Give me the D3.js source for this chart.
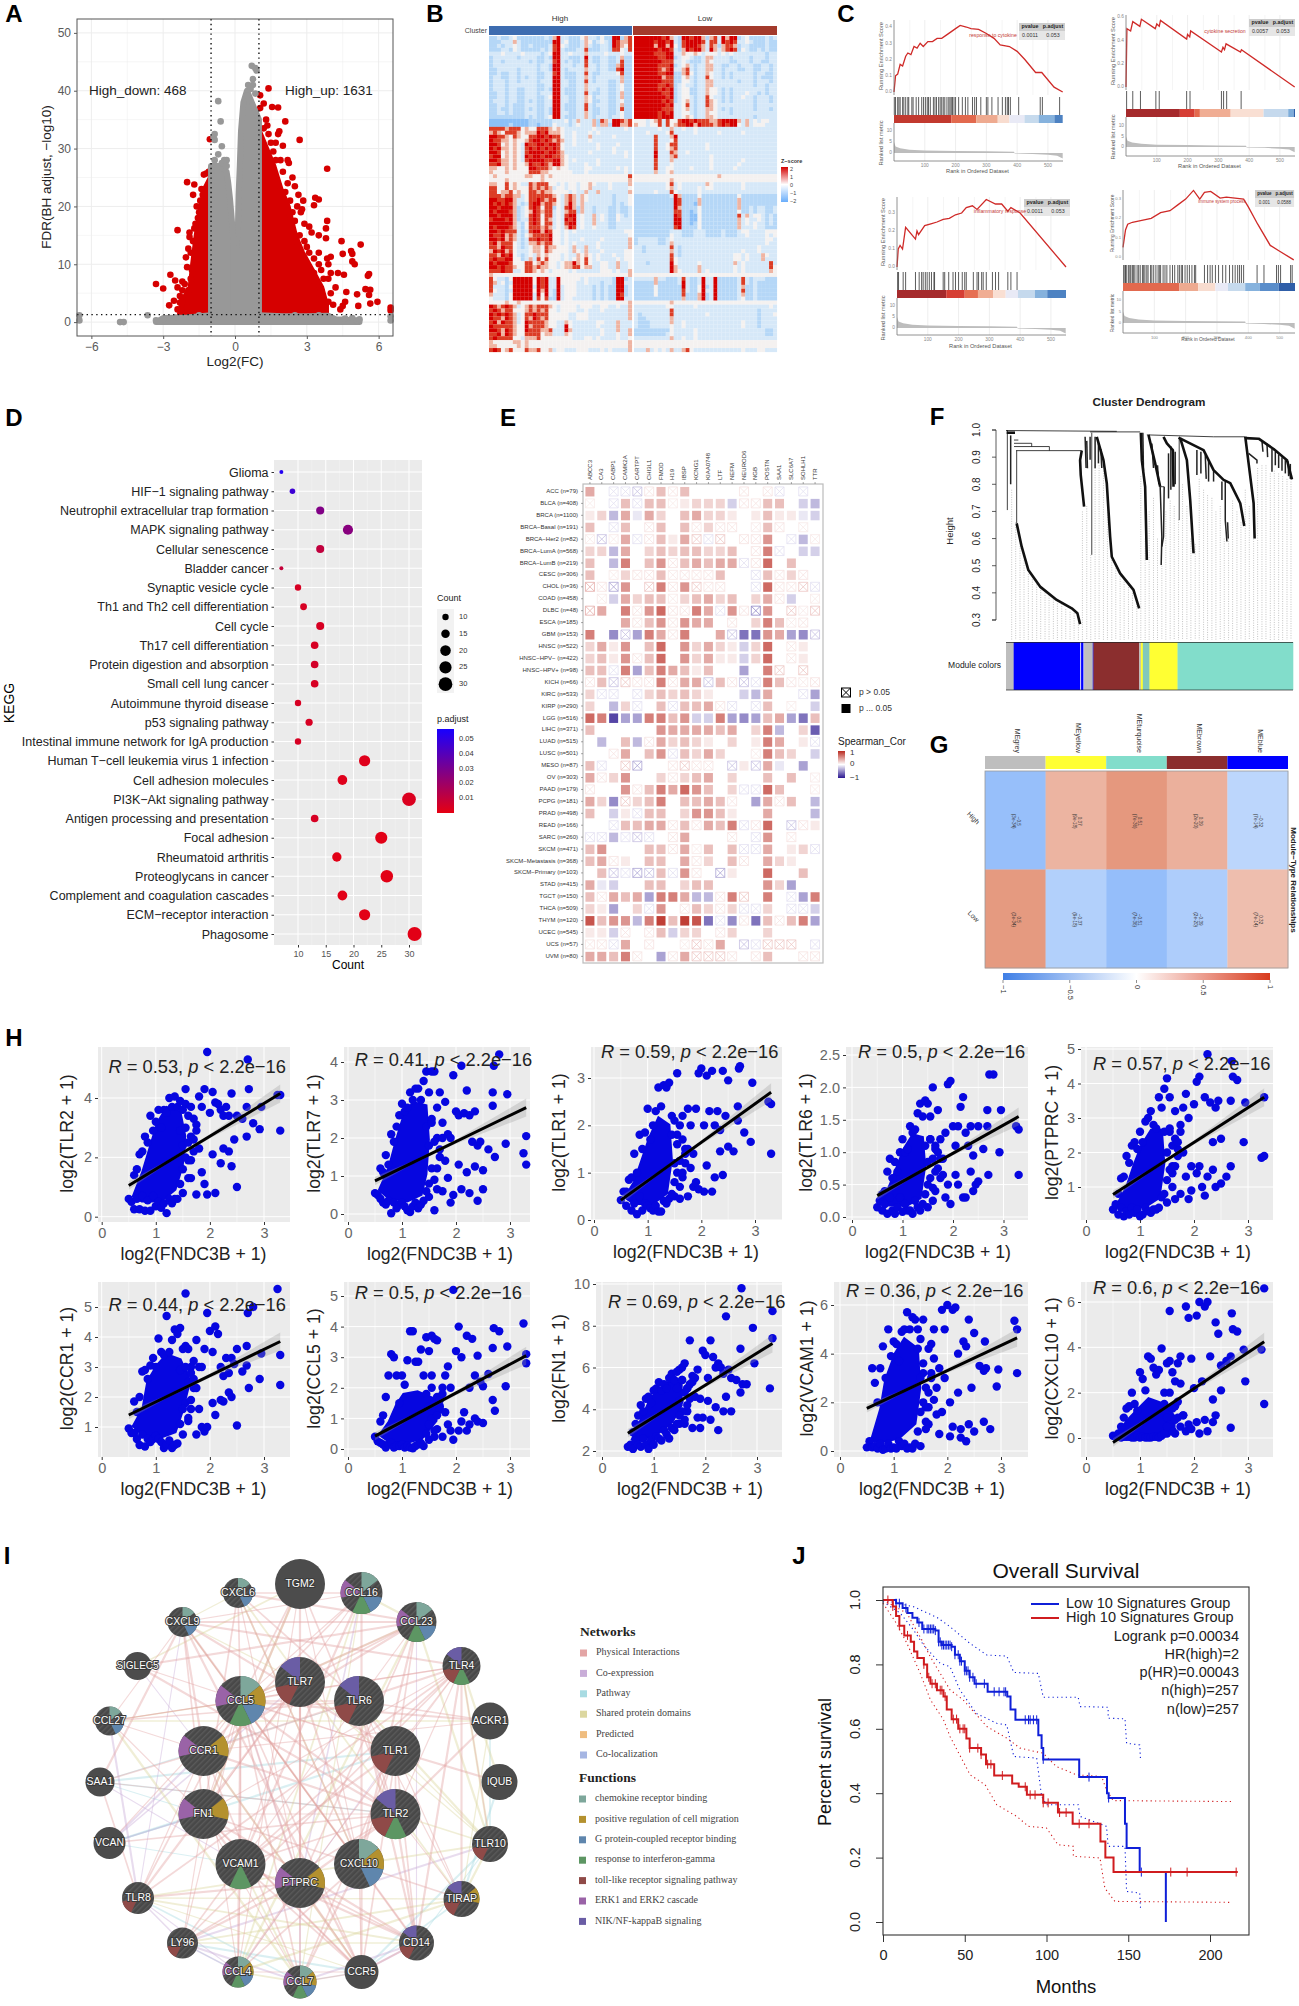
<!DOCTYPE html>
<html>
<head>
<meta charset="utf-8">
<title>FNDC3B multi-panel figure</title>
<script src="https://cdnjs.cloudflare.com/ajax/libs/d3/7.8.5/d3.min.js"></script>
<style>
  body { margin: 0; background: #fff; }
  svg { display: block; }
  text { font-family: "Liberation Sans", Arial, sans-serif; }
</style>
</head>
<body>
<script>
// ---------- A: volcano ----------
const volcanoGrayRight = [[0.05,1.5],[0.05,13],[0.12,16],[0.15,22],[0.2,27],[0.25,33],[0.35,38],[0.5,40],[0.7,38],[0.9,36],[1,35],[1,1.5]];
const volcanoGrayLeft = [[-0.05,1.5],[-0.05,13],[-0.1,16],[-0.2,21],[-0.28,24],[-0.35,26],[-0.6,27],[-1,27],[-1,1.5]];
const volcanoBand = [[-3.3,0],[-3,0.7],[-2,0.8],[-1,1.2],[1,1.2],[2,1],[3,1],[3.9,1.1],[4.2,0.5],[5.2,0.3],[5.2,0],[-3.3,0]];
const volcanoRedRight = [[1,1.3],[1,33],[1.3,30],[1.6,27],[1.9,23],[2.2,20],[2.5,15],[2.8,12],[3.2,9],[3.6,6],[3.8,3],[3.8,1.3]];
const volcanoRedLeft = [[-1,1.3],[-1,25],[-1.25,23],[-1.45,19],[-1.6,15],[-1.75,10],[-1.85,6],[-2.2,3.5],[-2.3,1.3]];
const volcanoRedPoints = [[1.4,40.4],[1.05,39.2],[1.2,37.8],[1.05,37],[1.55,37.2],[1.8,37.1],[2.1,34.7],[1.3,35],[1.35,34],[1.8,32.5],[1.85,33],[2.7,31.5],[2,30.5],[1.7,31],[1.5,31],[3.85,26.5],[2.2,28],[2.25,27.5],[2.4,25],[2.5,23.5],[2.65,22],[2.85,21],[3.35,21.5],[3.5,21.2],[3.3,20.2],[2.8,19.5],[2.75,19],[3.85,17.5],[3.8,16.2],[3.8,14.5],[2.9,17],[3.1,16.5],[3.2,15.5],[3.5,15],[4.45,14],[5.25,13.4],[4.85,12.3],[4.5,11.8],[4.9,11.8],[4.9,10.5],[5,10],[4,11.3],[3.85,11],[3.5,12],[3,13],[3.9,10],[4,8.5],[4.3,8.5],[4.55,8.2],[5.6,8.3],[5.55,8],[3.9,7.5],[4.2,6],[4.65,5.2],[5.1,4.8],[5.45,5.7],[5.65,5.6],[5.6,4.7],[5.65,3.2],[5.95,3.5],[5.15,2.8],[4.6,3.5],[4.5,2.8],[4.4,2.2],[6.5,2.5],[6.5,2],[-1.05,31.6],[-2,24.2],[-1.7,23.8],[-1.75,22],[-2.4,15.9],[-1.9,14.7],[-1.9,15.5],[-1.7,16.2],[-1.95,12.7],[-2.05,11.2],[-2,9.5],[-2.7,8.2],[-2.5,7.2],[-3.3,6.6],[-3,5.8],[-2.4,6],[-2.1,6.6],[-2.3,4.5],[-2.55,3.7],[-2.3,3.4],[-2.75,2.9],[-2.4,2.2],[-1.95,5.5],[-2.2,5.5],[-1.6,20],[-1.45,21],
  [2.3,21],[2.4,19],[2.5,17.5],[2.6,20],[2.2,24],[2,26],[1.9,28],[2.7,15],[2.9,14],[3.1,12],[3.3,11],[3.5,10],[3.6,9],[3.3,8.5],[3.7,7.5],[3.4,6.5],[3.6,5.5],[4,5],[3.9,3.5],[4.1,3],[3.7,3],[3.4,4],[2.9,10.5],[3.2,7.2],[2.6,13.3],[2.1,22.5],[1.7,28],[1.4,32.5],[1.2,33.5],[1.6,29.5],
  [-1.3,25.5],[-1.2,25.7],[-1.1,26],[-1.4,23],[-1.5,19],[-1.65,17],[-1.75,14],[-1.85,12],[-1.8,9],[-2.2,7],[-2.2,3.8],[-2,2.5],[-1.55,18],[-1.35,22],[-1.85,7.5],[-1.95,4]];
const volcanoGrayPoints = [[0.7,44.3],[0.85,43.9],[0.9,43.5],[0.75,42],[0.75,41],[0.55,41],[0.65,40.3],[0.5,39.2],[0.85,39.5],[-0.7,38.2],[-0.6,34.7],[-0.85,32.5],[-0.9,32],[-0.85,31.5],[-0.55,30.4],[-0.7,29],[-0.35,28],[-0.45,28],[-0.85,28],[-0.55,27.5],[-1,26.5],[-0.35,27],[-4.8,0],[-4.65,0],[-3.65,1.2],[-3.3,0.3],[-3,0.5],[6.5,1],[6.5,0.3],[-6.5,1.2],[-6.5,0.3],[5.1,0.2],[5.2,0.5],[4.9,0.7],[4.6,0.6],[3.5,1.2],[2.5,1.2],[-2.5,0.8],[-1.5,1.2]];

// ---------- B: heatmap, one digit per cell (0 = strong blue ... 6 = strong red) ----------
const heatRows = [
"112112 311111 112146 221113 422131 166145 666666 656421 665664 145264 661231 111212",
"111222 421111 111166 231112 431232 165445 666665 665621 566665 255265 652232 111211",
"112122 321121 111256 321112 421122 165435 666664 664631 566654 254145 541221 111211",
"111221 321111 121256 211122 511122 155325 666666 566521 465664 264245 651321 121211",
"222322 223222 212366 223222 422223 222322 666665 556622 433432 333232 322222 222122",
"122222 212222 112166 221112 621122 112411 666666 556612 332112 442222 122221 222122",
"122122 222212 112256 212112 521122 112511 666666 655522 321112 432222 112221 221122",
"122222 222222 122166 222122 522122 114511 666666 555612 342122 442211 221222 112212",
"112222 212222 122166 212222 422122 115611 666666 545622 452122 442212 221122 112212",
"112112 212222 112256 211122 521122 223511 666666 556611 453122 432212 122222 122112",
"122112 212122 112266 211122 421222 222411 666666 645511 342122 532212 122222 121112",
"122212 212222 122266 221122 521222 112411 666666 655511 332122 442222 221222 122212",
"122212 222222 112266 221122 422222 112311 666666 556512 322122 442222 222222 122122",
"122212 211222 112166 211122 422122 112311 666666 565612 331122 433212 122222 222122",
"112212 211222 122266 211122 521122 112411 666666 655612 331122 433212 122232 212122",
"112212 211222 112366 221122 431222 112411 666666 665612 332122 532212 122322 122212",
"122212 211212 112266 221122 431122 112311 666666 656512 342122 543212 122222 122212",
"112212 111222 112266 211122 521222 112411 666666 665622 352122 543222 222222 122222",
"112112 111212 112166 211122 521122 112511 666666 655522 342122 443212 122222 122212",
"112212 111222 112166 221122 421122 112311 666666 565622 332122 433222 122222 222222",
"111111 111212 112366 211122 421222 122311 666666 566622 343122 443222 222222 122222",
"000000 000011 111122 231242 224154 266545 333234 525335 665655 544566 664242 323322",
"000001 000011 011132 221232 224144 166445 433233 525345 566465 554565 663242 333222",
"555545 553433 555434 322222 223222 222232 222222 322422 322322 222222 222222 222222",
"454355 543444 656444 322322 232322 222222 222322 223522 222322 222322 222322 222222",
"665543 543355 665655 322322 242222 232222 222225 222462 222222 222222 222222 222222",
"655443 433456 656545 422322 232222 222222 222225 222352 222222 222222 222222 222222",
"665343 432655 665665 322322 222322 223222 222225 223552 222222 322222 222222 222222",
"656443 432565 656565 322222 222322 232222 222225 223452 222222 322222 222222 222222",
"665343 432566 665665 422222 232222 232232 222226 222542 232222 222222 222222 222222",
"566343 432656 656655 432222 222222 222232 222226 222452 222222 232222 222222 222222",
"665443 432566 665566 432322 222322 222222 222225 222422 222222 232222 222322 222222",
"556443 433465 565466 432222 322322 222222 222225 222322 222222 232222 223222 222222",
"443343 433366 555434 332222 332222 223232 222225 223322 223222 232222 232222 222222",
"433343 333355 544333 333222 322222 222232 222224 223422 222222 222222 222222 222222",
"343333 333443 343433 333333 333333 333335 333333 333333 333333 333433 333333 333333",
"333343 333333 343333 333333 333333 333334 333333 333433 333333 333333 333333 333333",
"443353 432254 555332 323323 343222 322224 222222 223523 222222 432222 222322 222222",
"553353 433354 545423 323323 342222 322223 222222 223423 222232 332222 222322 222222",
"553445 343355 454433 332322 422422 222224 222223 222532 222232 222222 222222 222222",
"555455 442355 555543 245424 322222 212223 111111 111264 111131 111111 113111 111111",
"665566 422355 654553 245424 322222 212223 111111 111165 111141 111111 114111 111111",
"656565 421256 645543 246424 222222 212123 111111 111165 111041 111111 114111 111111",
"665666 412356 535513 256414 221222 112112 111111 111164 111131 111111 114112 122112",
"656665 412346 545523 245514 221222 112112 111111 111155 110131 111111 113112 122112",
"665666 412356 535523 256623 224232 113212 111111 111165 110031 111111 115242 332121",
"566656 412256 535423 265623 224232 113222 111111 111166 110031 111111 114232 232121",
"666666 421356 535523 256623 224222 112222 111111 111166 110131 111111 114232 322121",
"656665 421355 545423 246523 223222 112222 111111 111156 111131 111111 114222 322111",
"665655 521256 646533 232322 222222 222233 111111 111222 111222 111121 112332 222333",
"655645 421345 555633 232222 222222 222223 111111 111322 111222 111121 112232 222323",
"665645 421255 655633 232223 222232 222224 122222 112322 222222 222222 222222 222332",
"564555 321244 545533 232322 222322 222224 122222 112422 222222 222222 222222 222322",
"554655 321234 435443 332422 422322 222224 221222 222521 222222 222222 222222 232222",
"465645 322234 435433 332432 422232 222233 221222 222421 222222 222222 222322 232222",
"554656 321232 434333 232243 432322 232233 222222 222521 222222 222222 233232 224322",
"565566 331242 535333 232343 532322 223233 222222 222532 222222 222222 233232 224222",
"656665 333553 454332 344643 532233 224223 222122 222632 222232 222222 242322 222252",
"665655 433554 544332 344553 442233 224223 222222 222642 222242 222222 232322 222253",
"555655 223554 343233 332322 222233 323224 222222 222643 222242 322222 232322 222243",
"433333 333333 333333 333333 333333 333334 333333 333333 333333 333333 333333 333333",
"532213 666663 656226 333332 322222 216612 222224 221112 521126 226111 112521 222111",
"542312 666663 656226 333322 322212 216622 111114 111112 621126 226111 112521 211111",
"522213 666662 656226 233322 221212 116612 111113 111111 621136 126111 112411 211111",
"532212 666663 646216 233322 221212 116612 111113 111111 521136 226111 112511 211111",
"422213 666662 636216 233322 221212 116512 111113 111111 511146 126111 112411 211111",
"322213 666662 535116 233222 221212 116622 111111 111111 411146 126111 112311 211111",
"333343 343333 333333 333333 333333 333334 333333 333433 333333 333333 333333 333333",
"654565 423454 555432 333323 332233 223224 222222 223322 222322 222222 222222 222232",
"565455 333454 545332 333322 322232 222224 222222 222522 222222 222222 222222 212222",
"656565 423556 555333 332233 322222 222224 212222 222522 222222 322222 222222 212223",
"655465 423546 545333 332233 322222 222224 211222 222422 222222 222222 222222 212222",
"564655 423655 554332 243222 222332 224222 211122 222422 322222 222222 222322 212222",
"655555 433645 554332 263222 222322 224222 211122 222322 322222 222222 222322 212222",
"665465 433655 544522 264222 222232 224224 111111 111322 222322 222222 222222 222112",
"556465 433555 534422 243222 222232 223224 111111 112322 222322 222222 222222 222112",
"565555 332444 533333 333222 332322 223223 222222 222422 322322 222222 222222 222222",
"433333 443433 333333 333333 333333 333334 333333 333333 333333 333333 333333 333333",
"443333 343433 333333 333333 333333 333334 333333 333333 333333 333333 333333 333333",
"565345 333544 533423 322233 322232 322224 222423 232422 453222 222222 222322 233222"
].map(s => s.replace(/ /g, ""));

// ---------- C: GSEA ----------
const gseaTerms = ["response to cytokine", "cytokine secretion", "inflammatory response", "immune system process"];
const gseaPvalues = ["0.0011", "0.0057", "0.0011", "0.001"];
const gseaPadjust = ["0.053", "0.053", "0.053", "0.0588"];
const gseaScores = [
  [[0,0],[5,.1],[12,.11],[20,.17],[28,.16],[38,.22],[45,.24],[55,.23],[65,.28],[75,.27],[85,.3],[95,.28],[110,.31],[125,.31],[140,.33],[155,.33],[170,.35],[185,.37],[200,.39],[215,.41],[235,.4],[250,.39],[275,.385],[300,.36],[325,.33],[345,.29],[375,.28],[400,.25],[425,.2],[460,.12],[480,.12],[520,.03],[548,0]],
  [[0,0],[3,.5],[15,.48],[22,.56],[45,.52],[50,.58],[95,.5],[100,.54],[108,.52],[112,.57],[197,.41],[200,.45],[207,.43],[210,.48],[310,.3],[315,.34],[320,.32],[325,.37],[372,.3],[375,.32],[548,0]],
  [[0,0],[4,.1],[10,.12],[18,.1],[28,.22],[60,.155],[65,.2],[70,.18],[90,.23],[110,.24],[130,.25],[150,.265],[170,.27],[190,.29],[210,.3],[225,.33],[245,.34],[260,.32],[290,.375],[320,.35],[340,.35],[360,.31],[370,.33],[400,.3],[549,0]],
  [[0,.05],[8,.14],[15,.17],[30,.18],[60,.19],[90,.2],[120,.23],[150,.24],[175,.27],[200,.3],[225,.345],[245,.3],[260,.335],[280,.34],[310,.305],[330,.31],[385,.3],[400,.26],[430,.17],[470,.06],[500,.03],[545,-.015]]
];
const gseaHits = [
  [1,5,12,16,20,28,32,38,45,48,58,62,72,80,90,96,102,108,112,118,128,133,138,145,150,155,160,165,172,178,182,186,190,195,200,210,222,232,240,255,262,268,282,300,305,318,338,352,362,368,372,378,405,475,482,538],
  [2,22,47,97,108,197,208,310,317,327,374],
  [2,5,20,28,60,72,80,85,92,98,105,112,120,122,150,155,168,182,190,200,212,220,225,248,260,265,275,280,290,310,320,330,360,370,390],
  [2,6,8,12,18,22,25,30,34,38,45,50,55,62,66,70,76,80,88,92,98,105,112,116,120,128,134,140,150,158,165,175,180,186,190,198,205,212,220,228,232,260,270,278,285,295,305,318,328,340,350,358,366,372,378,385,428,450,490,496,503,535,540]
];
const gseaStrips = [
  [[186,"#c2392f"],[267,"#e2694e"],[337,"#eeaa90"],[375,"#f8dccf"],[424,"#e9eaf6"],[470,"#c6daed"],[521,"#86b2dd"],[548,"#4d82c2"]],
  [[175,"#a52a2c"],[223,"#d63e34"],[240,"#e36a4e"],[340,"#f0ad93"],[447,"#f9dfd3"],[527,"#c5d9ed"],[545,"#7eadda"],[549,"#2c5fa8"]],
  [[160,"#a52a2c"],[220,"#d63e34"],[263,"#e66f52"],[313,"#f0ad93"],[353,"#f9dfd3"],[393,"#e9eaf6"],[448,"#c5d9ed"],[488,"#86b2dd"],[549,"#4d82c2"]],
  [[180,"#e2694e"],[240,"#eeaa90"],[295,"#f8dccf"],[335,"#e9eaf6"],[390,"#c6daed"],[437,"#86b2dd"],[497,"#5a8dca"],[549,"#2f5ea8"]]
];
const gseaScoreTicks = [[0,.1,.2,.3,.4],[0,.2,.4,.6],[0,.1,.2,.3],[0,.1,.2,.3]];
const gseaRankTicks = [100,200,300,400,500];
const rankedMetric = [[0,5],[5,3],[20,2.2],[50,1.5],[100,1.1],[200,.9],[300,.75],[390,.6],[392,-.2],[450,-.4],[500,-.8],[530,-1.2],[548,-2.5]];

// ---------- D: KEGG dot plot ----------
const keggTerms = ["Glioma","HIF−1 signaling pathway","Neutrophil extracellular trap formation","MAPK signaling pathway","Cellular senescence","Bladder cancer","Synaptic vesicle cycle","Th1 and Th2 cell differentiation","Cell cycle","Th17 cell differentiation","Protein digestion and absorption","Small cell lung cancer","Autoimmune thyroid disease","p53 signaling pathway","Intestinal immune network for IgA production","Human T−cell leukemia virus 1 infection","Cell adhesion molecules","PI3K−Akt signaling pathway","Antigen processing and presentation","Focal adhesion","Rheumatoid arthritis","Proteoglycans in cancer","Complement and coagulation cascades","ECM−receptor interaction","Phagosome"];
const keggCounts = [7,9,14,19,14,7,10,11,14,13,13,13,10,12,10,22,18,30,13,25,17,26,18,22,31];
const keggPadjust = [.052,.045,.027,.025,.01,.009,.004,.004,.004,.004,.005,.004,.004,.004,.004,.002,.002,.003,.004,.001,.001,.001,.001,.001,.001];
const keggCountTicks = [10,15,20,25,30];
const keggPTicks = [.05,.04,.03,.02,.01];

// ---------- E: correlation matrix, tenths of Spearman r ----------
const corGenes = ["ABCC3","CA3","CABP1","CAMK2A","CARTPT","CHI3L1","FMOD","H19","IBSP","KCNG1","KIAA0748","LTF","NEFM","NEUROD6","NGB","POSTN","SAA1","SLC6A7","SOHLH1","TTR"];
const corCancers = ["ACC (n=79)","BLCA (n=408)","BRCA (n=1100)","BRCA−Basal (n=191)","BRCA−Her2 (n=82)","BRCA−LumA (n=568)","BRCA−LumB (n=219)","CESC (n=306)","CHOL (n=36)","COAD (n=458)","DLBC (n=48)","ESCA (n=185)","GBM (n=153)","HNSC (n=522)","HNSC−HPV− (n=422)","HNSC−HPV+ (n=98)","KICH (n=66)","KIRC (n=533)","KIRP (n=290)","LGG (n=516)","LIHC (n=371)","LUAD (n=515)","LUSC (n=501)","MESO (n=87)","OV (n=303)","PAAD (n=179)","PCPG (n=181)","PRAD (n=498)","READ (n=166)","SARC (n=260)","SKCM (n=471)","SKCM−Metastasis (n=368)","SKCM−Primary (n=103)","STAD (n=415)","TGCT (n=150)","THCA (n=509)","THYM (n=120)","UCEC (n=545)","UCS (n=57)","UVM (n=80)"];
const corValues = [
[4,0,-1,-1,-2,1,3,1,3,0,0,0,0,1,0,1,-1,0,-1,0],
[0,0,-1,3,-1,3,3,0,1,2,2,2,-2,1,1,3,3,0,-2,-3],
[1,2,-3,4,-1,4,2,0,3,4,2,2,1,0,1,3,1,1,-1,-2],
[3,0,-1,3,0,1,3,0,3,1,2,1,1,0,0,3,1,0,0,0],
[0,-2,0,4,-1,1,3,1,4,2,-1,2,0,1,1,5,0,-1,-3,0],
[2,2,-3,4,0,2,3,2,3,3,2,2,3,0,1,6,-1,0,-2,-2],
[3,0,-3,6,0,3,5,1,3,4,3,4,4,-1,1,7,0,3,0,0],
[3,0,0,2,1,1,3,0,1,1,1,3,0,0,-1,3,1,2,1,0],
[3,1,-3,5,0,2,6,1,5,2,1,1,0,0,-1,7,1,1,2,-1],
[0,0,-2,4,2,3,3,0,2,3,4,2,3,0,2,4,1,-2,0,0],
[3,4,0,6,1,5,7,1,1,6,4,-1,5,1,-4,5,0,2,0,2],
[0,0,0,4,1,3,5,1,5,4,4,0,1,0,2,6,3,0,1,0],
[6,0,-5,-2,-4,6,4,1,6,0,0,4,-2,-6,-6,5,4,-4,-5,-2],
[2,4,1,5,0,3,7,0,5,2,4,2,1,-2,2,7,0,1,1,0],
[2,3,1,5,1,3,7,0,5,2,4,1,1,-2,2,7,0,1,1,0],
[3,3,-1,6,-4,3,6,4,3,1,3,0,0,-4,0,6,2,0,2,0],
[1,3,-2,2,1,1,6,1,4,4,-2,3,1,-2,-1,6,3,1,0,1],
[2,-1,-1,0,-1,2,3,2,3,2,1,0,0,-2,-3,4,0,0,-1,-4],
[2,0,-3,2,-1,0,3,-1,3,3,4,1,-1,0,-1,3,0,0,0,-2],
[7,6,-8,-4,-4,6,6,3,5,-2,-2,6,-4,-5,-4,3,4,-4,-6,3],
[3,0,0,0,0,0,5,4,4,4,4,3,4,0,2,6,-3,0,2,-7],
[0,-3,0,3,-3,1,4,2,3,2,1,0,2,0,1,6,4,0,1,-1],
[0,0,1,4,0,3,5,-1,3,2,4,2,0,0,0,6,3,2,0,-2],
[3,-1,0,2,-3,0,0,1,2,1,1,0,-2,1,-2,4,-1,0,-4,0],
[4,1,2,5,0,0,2,1,2,3,4,0,2,0,0,3,0,3,0,0],
[1,0,0,5,1,3,6,4,7,5,3,0,2,-1,-1,7,3,0,0,0],
[4,2,-5,2,2,3,6,0,3,3,4,3,1,0,-4,4,1,3,0,-3],
[3,0,-2,1,-1,3,3,0,2,5,5,3,1,0,0,4,0,0,0,-3],
[0,0,-1,3,3,4,4,1,3,1,4,3,6,-1,1,7,0,-2,1,1],
[-1,-1,-3,-1,-2,-1,0,1,4,0,0,0,1,0,-1,5,0,1,0,0],
[3,5,0,0,0,3,3,1,4,0,3,0,3,-1,-1,4,0,1,2,-1],
[3,4,1,1,0,3,3,0,4,1,2,0,3,1,0,4,2,1,0,0],
[0,3,-2,-1,-3,-2,3,-1,5,1,0,-3,1,0,0,7,0,0,3,0],
[4,-1,-2,0,0,3,3,0,2,3,3,0,0,0,0,5,2,-4,0,0],
[3,1,4,3,4,-4,6,6,4,-3,-3,1,6,2,0,6,0,-1,-4,6],
[2,1,-4,0,2,-1,5,0,1,3,2,1,2,-1,-1,2,0,-1,-1,-2],
[8,3,5,5,-3,6,9,3,9,8,-6,-1,-5,1,-6,3,1,3,6,-4],
[1,1,-2,1,0,1,3,-2,2,2,0,1,2,0,0,2,0,0,0,0],
[1,1,-1,4,0,1,0,0,0,2,1,4,0,-2,-1,2,2,2,0,-1],
[4,4,3,6,1,0,-4,1,4,2,2,2,1,0,1,3,0,0,1,1]
];
// "x" marks a cell with p > 0.05
const corNonSig = ["..xxxx.x.....x.xx.x.","x.x.x..x.....xx.....","....................","..x..x...x.xx.x.x.x.","xxx.xx...xxx.xx..x.x","..............x.x...",".......x.....xx.....","..x.xx.xxxx...x.x.x.","xxx..x.x.xxx..x.xxxx",".x.....x........x..x","x...x..xx..x.xx..xxx","....x..x....x....xx.","...x...x....x......x",".................x..","....x............x..","..x.............x.x.","x.xxxx.x..x.xxx..xxx",".xx.x.............x.","....x..x...xx.x..x..","....................","....................",".....x.............x","..x....x......x.....",".x.xx..xxxx.x.x.....",".x.....x...........x","x...x........xx....x","...x........x...x...","....x...............","..x....x.x...xx..xx.","xx.xxx.x....x.x..x..",".......x.x...xx....x","..x......x...x......","..xxxx.x.x.x........","....................",".x.........x.x...x..",".....x..x..x.xx..xx.","...........x.x..x...","...x.x.....x........","xxx..x..xxx..xxxxx.x","....x..x.xxxx.x...xx"];

// ---------- F: dendrogram (leaf position, height) ----------
const dendroBranches = [
  [[290,.656],[305,.57],[325,.484],[360,.423],[410,.374],[455,.343],[472,.325],[480,.285]],
  [[530,.975],[550,.889],[560,.804],[570,.607],[575,.533],[600,.472],[640,.411],[657,.343]],
  [[485,.924],[480,.889],[482,.834],[492,.718]],
  [[662,.99],[665,.889],[675,.791],[680,.521]],
  [[685,.982],[705,.877],[720,.791]],
  [[730,.975],[740,.951],[758,.926],[760,.791]],
  [[780,.97],[800,.889],[810,.742],[820,.546]],
  [[775,.972],[850,.926],[880,.852],[910,.816],[930,.804],[960,.73],[972,.646]],
  [[975,.975],[985,.877],[1000,.73],[1003,.6]],
  [[975,.97],[1015,.968],[1060,.93],[1100,.889],[1115,.818]],
  [[260,.99],[285,.99]]
];
const dendroTwigs = [
  [[500,.96],[502,.859]],[[510,.975],[510,.89]],[[525,.975],[525,.859]],[[535,.951],[535,.877]],[[495,.975],[498,.86]],[[542,.93],[545,.86]],
  [[668,.99],[670,.85]],[[695,.95],[700,.86]],[[712,.87],[716,.8]],[[745,.914],[745,.748]],[[752,.94],[752,.78]],[[765,.92],[765,.8]],
  [[720,.791],[725,.607],[723,.503]],[[732,.791],[730,.607],[725,.57]],
  [[830,.926],[830,.834]],[[842,.92],[842,.84]],[[855,.91],[858,.82]],[[865,.889],[865,.81]],[[880,.85],[880,.81]],[[905,.81],[905,.742]],[[915,.81],[915,.668],[920,.589]],[[922,.66],[924,.6]],
  [[1025,.96],[1028,.92]],[[1040,.95],[1042,.9]],[[1055,.93],[1055,.846]],[[1065,.92],[1065,.87]],[[1075,.91],[1075,.86]],[[1085,.9],[1085,.85]],[[1095,.889],[1095,.84]],[[1110,.875],[1110,.82]],[[1103,.885],[1105,.83]],
  [[985,.914],[1010,.889],[1010,.877]],[[272,.98],[272,.8]]
];
const dendroThin = [
  [[262,1],[262,.705]],[[290,.924],[290,.656]],[[777,.97],[777,.668]],[[515,.99],[515,.54]],
  [[258,.998],[590,.995]],[[510,.993],[660,.993]],[[680,.982],[880,.975]],[[880,.975],[975,.975]],
  [[282,.963],[295,.963]],[[282,.951],[335,.951]],[[335,.951],[335,.939]],[[282,.939],[388,.939]],[[388,.939],[388,.924]],[[288,.924],[485,.924]],[[720,.791],[732,.791]]
];
const dendroGuides = [[275,.78],[287,.66],[300,.6],[312,.52],[325,.47],[337,.45],[350,.44],[362,.42],[375,.41],[387,.4],[400,.385],[412,.37],[425,.36],[437,.34],[450,.33],[462,.325],[475,.3],[487,.7],[500,.72],[512,.54],[525,.87],[537,.87],[550,.85],[562,.75],[575,.53],[587,.5],[600,.47],[612,.45],[625,.43],[637,.4],[650,.36],[662,.83],[675,.6],[687,.7],[700,.75],[712,.6],[725,.5],[737,.7],[750,.74],[762,.72],[775,.67],[787,.8],[800,.72],[812,.6],[825,.58],[837,.82],[850,.78],[862,.76],[875,.75],[887,.7],[900,.72],[912,.6],[925,.6],[937,.74],[950,.7],[962,.66],[975,.78],[987,.72],[1000,.6],[1012,.86],[1025,.87],[1037,.87],[1050,.84],[1062,.85],[1075,.84],[1087,.83],[1100,.82],[1112,.81]];
const moduleStrip = [[258,281,"#bebebe"],[281,480,"#0000ff"],[480,483,"#c8c8ff"],[483,490,"#0000ff"],[490,492,"#c8c8ff"],[492,518,"#bebebe"],[518,520,"#0000ff"],[520,657,"#8b2e2e"],[657,662,"#bebebe"],[662,668,"#ffff33"],[668,688,"#82c8bc"],[688,772,"#ffff33"],[772,1118,"#82ddcb"]];
const dendroTicks = [.3,.4,.5,.6,.7,.8,.9,1];

// ---------- G: module-trait ----------
const moduleNames = ["MEgrey","MEyellow","MEturquoise","MEbrown","MEblue"];
const moduleColors = ["#bebebe","#ffff33","#82ddcb","#8b2e2e","#0000ff"];
const traitNames = ["High","Low"];
const traitCors = [[-.5,.37,.51,.39,-.32],[.5,-.37,-.51,-.39,.32]];
const traitPvals = [["3e-34","9e-18","7e-36","2e-20","7e-14"],["3e-34","9e-18","7e-36","2e-20","7e-14"]];
const traitTicks = [-1,-.5,0,.5,1];

// ---------- H: FNDC3B scatter plots, x is shared by all panels ----------
const fndc3b = [.5,.55,.6,.65,.7,.75,.8,.85,.9,.95,1,1.05,1.1,1.15,1.2,1.25,1.3,1.35,1.4,1.5,
  .6,.65,.7,.75,.8,.85,.9,.95,1,1.05,1.1,1.15,1.2,1.25,1.3,1.35,1.4,1.45,1.5,1.55,
  1.55,1.6,1.65,1.7,1.75,1.8,1.85,1.9,1.95,2,2.05,2.1,2.15,2.2,2.25,2.3,2.35,2.4,
  1.6,1.65,1.75,1.85,1.9,1.95,2.05,2.1,2.2,2.25,2.35,2.4,
  2.45,2.5,2.5,2.6,2.68,2.68,2.7,2.72,2.8,2.92,2.95,3.25,3.3,3.3,
  1.45,1.5,1.55,1.6,1.65,1.7,1.45,1.5,1.55,1.6,1.65,1.7,1.75,1.8];
const tlr2 = [.6,.5,.25,.6,.25,.7,.2,.55,.2,.7,.35,.5,.3,.45,.12,.6,.45,.6,.6,.8,1.4,1.6,2.1,2.2,2.7,2.5,3.4,2.9,3.2,3.6,3,3.6,3.5,4,3.7,4.05,3.7,3.9,3.6,4.3,3.8,3.4,3.7,3.3,3.1,4.05,3.7,4.3,5.55,3.5,4.2,3.85,3.8,3.6,3.4,3.7,3.4,4.15,1.9,1.3,.75,1.5,1.1,.75,2.1,.8,1.8,2.3,2.2,1.7,2.6,1,3.4,3.3,3.7,2.7,5.3,4.3,3.15,2.95,3.7,4.1,2.9,4.1,2.9,2.4,2,1.3,2.7,2.2,1.1,1.6,3,2.5,1.9,2.6,2.9,2.3];
const tlr7 = [.55,.5,.4,.3,.25,.35,.02,.3,.15,.25,.3,.2,.1,.05,.2,.3,.15,.25,.35,.45,1.2,1.1,1.55,1.3,2.1,1.9,2.3,2.6,2.9,2.7,2.8,3.2,3,3.3,3.3,3,3.5,3.75,3.2,3.75,2.5,3.75,2.8,3.2,2.4,2.95,2.1,2,3.65,2.7,2.6,3.9,2.65,3.25,2.6,1.9,2.7,1.8,.1,.65,.6,.95,.3,.5,1.3,.65,1.1,.55,1.25,.35,1.9,1.15,.65,1.7,3.2,2.85,3.9,1.5,4.2,1.85,3.15,1.6,2.05,1.3,2.3,1.8,1.2,.9,2,1.5,.6,.8,2.4,1.9,1.2,1.7,2,1.4];
const tlr1 = [.42,.6,.3,.5,.2,.35,.12,.5,.2,.35,.3,.25,.2,.3,.18,.18,.4,.35,.45,.5,.6,.85,.9,1.4,1,1.8,1.5,1.85,2.35,1.7,2,2.3,2.8,2.4,2.85,2.8,2.9,2.2,2.1,3.1,1.8,2,2.2,1.5,2.35,2,1.4,2.35,3.1,3.2,2,3.05,2.3,3.15,2,2.3,1.9,3.15,.45,.9,.5,.7,.8,.65,.6,1.15,.6,.9,1.45,.95,2.2,2.95,1.55,1.45,2.1,2.4,3.2,3.25,1.85,1.65,2.9,2.5,1.4,2.45,1.8,1.2,1,.7,1.7,1.2,.55,.8,1.6,1.25,1,1.4,1.5,1.1];
const tlr6 = [.15,.25,.1,.2,.05,.3,.1,.05,.15,.3,.08,.2,.1,.1,.05,.25,.15,.1,.2,.15,.35,.4,.7,.9,.6,.85,.7,1,1.2,1,1.05,1.4,1.3,1.35,1.6,1.75,1.55,1.8,1.75,1.55,1.2,2,1.1,1.65,1.2,.9,1.3,2.05,2.1,1.4,1.1,1.4,1.7,1.85,1.3,1.1,1.4,.95,.25,.4,.6,.3,.5,.2,.65,.5,.3,.3,.7,.4,.5,.55,1.4,1.05,1.4,1.65,.65,2.2,2.2,1,1.65,1.4,.65,1.35,1.1,.85,.6,.45,1.05,.75,.35,.5,1.2,.9,.7,1,.9,.65];
const ptprc = [.35,.5,.2,.4,.15,.3,.2,.4,.25,.35,.15,.2,.4,.3,.25,.35,.35,.4,.7,.55,.8,1.25,1.3,1.9,1.7,2.2,2.3,2.1,2.6,2.3,2.9,3,3.2,2.8,2.7,3.6,3.3,3.85,4.15,3.6,2.6,1.4,3.2,2.1,2.8,3.3,3.7,3,1.6,3.4,4.05,4.2,1,3.6,4.85,3.45,2.3,3.3,1.6,.65,.8,1.3,.65,.9,1.4,1.6,.75,1.3,1.5,1,3.5,1.1,2.4,1.3,1.6,3.5,4.65,4.2,4.1,2.3,3.45,1.85,1.9,3.6,2.6,2,1.5,1,2.4,1.9,.8,1.2,2.7,2.2,1.6,2.3,2.6,2];
const ccr1 = [.95,.8,.8,.6,.4,.75,.35,.6,.5,.6,.7,.6,.5,.3,.4,.55,.3,.4,.45,.75,1.85,1.5,2,2.85,2.9,2.6,3.05,3.3,3,3.95,3.5,3.4,4.7,3.5,3.9,4.25,4.1,4.3,3.6,5.45,3.7,3.6,3,3.2,3.9,3,3,3.6,4.8,4.2,3.5,4.35,4.1,3,2.7,3.3,2.8,3.3,1.2,1.6,.75,1,.85,1,1.8,1.4,1.9,1.85,2.15,2,3.1,1.05,3.6,2.85,3.7,3.05,4.8,2.3,5,2.6,3.45,5.6,3.4,2.4,2.9,2.2,1.8,1.3,2.8,2.3,1.1,1.6,3,2.5,1.9,2.6,2.3,1.6];
const ccl5 = [.4,.25,.2,.15,.05,.15,.2,.05,.1,.1,.15,.05,.1,.05,.02,.1,.15,.2,.1,.3,.9,1.1,1.7,2.4,3.1,3,2.4,1.5,2.4,2.1,2.9,3.85,3.85,2.85,2.85,3.25,2.4,3.65,3.2,3.7,2.4,3.6,3.55,1.4,2,2.4,2.7,2,5.2,3.2,4,3,1.2,3.7,2,3.6,2.4,3.05,.4,.65,.4,.8,.6,.3,.6,.9,.6,.8,1,.9,2.2,.85,2.05,2.45,3.3,1.6,3.95,1.25,3.85,2.05,3.35,4.1,3.1,2.8,1.8,1.4,1,.6,1.7,1.3,.5,.8,2,1.5,1.1,1.6,1.8,1.2];
const fn1 = [2.2,2.3,2.1,2.5,2.3,2.2,2.6,2.3,2.1,2.5,2.3,2.7,2.6,2.5,3,2.8,2.6,3.1,3,3.3,2.9,3.3,3.7,4.2,3.9,4.5,4.6,4.3,4.9,5,5.3,4.9,5.2,5,5.5,5.7,5.4,5.8,5.9,6,5.4,6.2,5,7.3,5.6,5.5,5.9,4.5,6.8,6.6,5.5,7.3,6.5,6,6.2,6,5.7,8.45,3.3,3.9,3.1,3.6,3.1,3.6,4.4,3.5,4.1,3,3.9,4.6,5.9,3.9,5.5,5.4,4.8,6.9,9.8,5.2,5.2,7.9,6.2,5,8.7,7.4,5,4.4,3.9,3.5,5,4.5,3.3,3.7,5.4,4.8,4.2,5.2,5.3,4.6];
const vcam1 = [.15,.4,.15,.2,.1,.3,.05,.1,.3,.1,.15,.1,.4,.2,.3,.1,.15,.1,.3,.2,3.4,2.8,2,3.4,4.3,3,5,3.9,4.5,4.4,3.7,4.9,5,5.7,5,5.5,5.4,5,4.6,5.4,3.2,1.8,2.4,4.4,5,1.5,3.4,5.8,5,6,.6,5.8,5.9,4,.9,4.5,.4,5.4,.9,1.1,2.1,.7,1.6,3,2,1,2.4,.55,4.3,1.1,2.6,4.85,.8,3.5,1.2,3.3,4.5,3.4,.9,2.65,3.35,5.35,5,3.2,4.2,3,2,1.2,4.2,3,.8,1.6,3.6,2.6,1.8,3.2,3.8,2.6];
const cxcl10 = [.1,.05,.1,.02,.05,.05,.05,.02,.02,.1,.02,.05,.02,.02,.02,.05,.05,.02,.1,.2,.2,.5,.9,1.3,1.4,2,1.5,1.2,2.9,2.6,2.1,3.6,3.5,3.1,2.8,3,3.95,2,3.3,3.4,5.6,2.9,2.5,3.3,3.6,1,5.8,5.3,3.5,2.2,5.4,6,2.5,5.8,6,3.6,1.7,5.1,.3,.2,.5,.3,.6,.4,.7,.2,.8,.3,.7,1,4.6,3.2,2.1,3.4,.45,3.6,5.5,4.8,4.7,3.9,2.5,3.9,6.6,1.5,1.5,.9,.6,.3,1.4,.9,.2,.5,2,1.3,.8,1.6,2.4,1];
const scatterGenes = ["TLR2","TLR7","TLR1","TLR6","PTPRC","CCR1","CCL5","FN1","VCAM1","CXCL10"];
const scatterY = [tlr2,tlr7,tlr1,tlr6,ptprc,ccr1,ccl5,fn1,vcam1,cxcl10];
const scatterR = ["0.53","0.41","0.59","0.5","0.57","0.44","0.5","0.69","0.36","0.6"];
const scatterFitStart = [1.05,.87,.42,.33,.78,1.4,.42,2.85,1.75,-.2];
const scatterFitEnd = [4.15,2.8,2.7,1.55,3.6,3.85,3.05,7.15,4.65,4.25];
const scatterTicks = [[0,2,4],[0,1,2,3,4],[0,1,2,3],[0,.5,1,1.5,2,2.5],[1,2,3,4,5],[1,2,3,4,5],[0,1,2,3,4,5],[2,4,6,8,10],[0,2,4,6],[0,2,4,6]];
// dense middle of each cloud, outline in data units
const scatterCore = [
  [[.5,.55],[.7,1.5],[.85,2.4],[1,3.3],[1.2,3.9],[1.5,3.7],[1.6,2.8],[1.55,1.7],[1.4,.8],[1.1,.35],[.7,.35]],
  [[.5,.55],[.7,1.2],[.85,2],[1,2.7],[1.2,3.1],[1.5,3],[1.55,2],[1.5,1],[1.4,.4],[1.1,.2],[.7,.3]],
  [[.5,.42],[.7,.8],[.85,1.3],[1,1.8],[1.2,2.3],[1.45,2.1],[1.5,1.3],[1.4,.5],[1.1,.25],[.7,.25]],
  [[.5,.15],[.7,.5],[.85,.8],[1,1.1],[1.2,1.35],[1.45,1.3],[1.5,.8],[1.4,.25],[1.1,.12],[.7,.12]],
  [[.5,.4],[.7,1],[.85,1.7],[1,2.3],[1.2,2.8],[1.45,2.8],[1.5,1.7],[1.4,.6],[1.1,.3],[.7,.3]],
  [[.5,.95],[.7,1.6],[.8,2.6],[1,3.2],[1.2,3.6],[1.5,3.4],[1.7,2.6],[1.55,1.5],[1.4,.7],[1.1,.5],[.7,.6]],
  [[.5,.4],[.7,.9],[.85,1.5],[1,1.9],[1.3,2],[1.7,1.7],[1.7,.9],[1.4,.25],[1.1,.1],[.7,.15]],
  [[.5,2.4],[.7,3.5],[.9,4.6],[1.1,5.1],[1.4,5.7],[1.6,5.3],[1.6,4.2],[1.4,3.3],[1.1,2.7],[.7,2.3]],
  [[.5,.2],[.7,1.7],[.8,3],[1,4.2],[1.2,4.9],[1.5,4.4],[1.55,2.6],[1.45,1],[1.1,.3],[.7,.15]],
  [[.5,.1],[.7,.8],[.9,1.3],[1.15,1.9],[1.5,1.6],[1.7,1],[1.7,.2],[1.1,.02],[.7,.02]]
];
const fitCiX = [.5,1.2,2,3.3];
const fitCiHalf = [.14,.05,.07,.3];

// ---------- I: gene network, function order: chemokine, migration, GPCR, IFN, TLR, ERK, NIK ----------
const networkFunctions = ["chemokine receptor binding","positive regulation of cell migration","G protein-coupled receptor binding","response to interferon-gamma","toll-like receptor signaling pathway","ERK1 and ERK2 cascade","NIK/NF-kappaB signaling"];
const functionColors = ["#7ea79b","#b4912f","#5f86ad","#5d9663","#8f4a48","#9a63a7","#6a5da5"];
const networkTypes = ["Physical Interactions","Co-expression","Pathway","Shared protein domains","Predicted","Co-localization"];
const networkTypeColors = ["#e3a5a5","#c9add8","#a8dbe2","#dcd7a0","#efbd80","#a6b6e3"];
const geneNames = ["TGM2","CXCL6","CCL16","CCL23","CXCL9","TLR4","SIGLEC5","TLR7","CCL5","TLR6","CCL27","ACKR1","CCR1","TLR1","SAA1","IQUB","FN1","TLR2","VCAN","TLR10","VCAM1","CXCL10","PTPRC","TLR8","TIRAP","LY96","CD14","CCL4","CCL7","CCR5"];
const geneScores = [25,15,21,20,15,19,14,25,25,25,14.5,18.5,25,25,14.5,18,25,25,16,18,25,25,25,16,18,15.5,17.5,15.5,16.5,17];
// slice membership, one flag per function
const geneFunctions = ["0000000","1010000","1011010","1011010","1010000","0001101","0000000","0000101","1111010","0000101","1010000","0000000","0100010","0000100","0000000","0000000","0100010","0001101","0000000","0000100","0001000","1110000","0100010","0000100","0100101","0000100","0000101","1111010","1111010","0000000"];
const physicalEdges = "CCL5 CCR1;CCL5 CCR5;CCL5 TLR2;CCL5 CXCL10;CCL5 VCAM1;CCL5 PTPRC;CCL5 FN1;CCL5 TLR4;CCL5 CCL23;CCL5 CCL16;CCL5 CXCL6;CCL5 CXCL9;CCL5 CCL27;CCL5 CCL7;CCL5 CCL4;CCL5 TLR7;CCL5 TLR6;CCL5 ACKR1;CCL5 TLR1;CCL5 TLR8;CCL5 CD14;CCL5 LY96;CCR1 CCL16;CCR1 CCL23;CCR1 CCL4;CCR1 CCL7;CCR1 CXCL9;CCR1 TLR8;CCR1 SAA1;CCR1 TLR2;CCR1 CCL27;CCR1 CCR5;CCR1 TLR4;CCR1 ACKR1;TLR1 TLR2;TLR1 TLR6;TLR1 TLR4;TLR1 CD14;TLR1 VCAM1;TLR1 SIGLEC5;TLR1 CXCL10;TLR1 CXCL9;TLR1 TIRAP;TLR1 CCL7;TLR1 IQUB;TLR2 TLR4;TLR2 TLR6;TLR2 CD14;TLR2 FN1;TLR2 VCAM1;TLR2 PTPRC;TLR2 TIRAP;TLR2 LY96;TLR2 SIGLEC5;TLR2 SAA1;TLR4 LY96;TLR4 CD14;TLR4 FN1;TLR4 VCAM1;TLR4 TIRAP;TLR4 PTPRC;TLR4 TLR8;TLR4 CXCL9;TLR4 TLR10;TLR6 CXCL6;TLR6 CD14;TLR6 TIRAP;TLR6 ACKR1;TLR7 TLR8;TLR7 PTPRC;TLR7 CCL7;TLR7 CXCL10;TLR7 VCAM1;TLR7 CCL23;TGM2 FN1;TGM2 CXCL10;TGM2 CCL5;TGM2 PTPRC;TGM2 CCL4;TGM2 TLR2;FN1 VCAM1;FN1 CCL7;FN1 CXCL9;FN1 CD14;FN1 LY96;FN1 CXCL6;FN1 CCR5;FN1 CCL16;FN1 TIRAP;VCAM1 CCL16;VCAM1 CCL4;VCAM1 CCR5;VCAM1 CD14;VCAM1 CCL23;VCAM1 LY96;PTPRC CCL4;PTPRC CCR5;PTPRC CD14;PTPRC LY96;PTPRC CXCL6;PTPRC CCL23;PTPRC TLR8;CXCL10 CXCL9;CXCL10 CCL4;CXCL10 CCL7;CXCL10 CCR5;CXCL10 CXCL6;CXCL10 CCL23;CXCL10 CD14;CCR5 CCL23;CCR5 CCL16;CCR5 CCL27;CCR5 CD14;CCR5 CXCL9;CCR5 CCL4;CCR5 CCL7;CXCL9 CCL23;CXCL9 CCL16;CXCL6 CCL16;CXCL6 CCL23;CXCL9 CCL27;SAA1 TLR8;SAA1 CXCL9;VCAN CCL5;VCAN TLR2;ACKR1 TLR2;CCL27 TLR4;CCL27 TLR6;SIGLEC5 CCL23".split(";");
const sharedEdges = "CCL5 CCL27;CCL5 CCL23;CCL16 CCL23;CXCL9 CXCL6;CCL4 CCL7;TLR4 TLR10;TLR1 TLR10;TLR2 TLR10;TLR6 TLR10;TLR7 TLR10;TLR8 TLR10;TIRAP TLR10;CCL16 CCL7;CCL16 CCL4;CCL23 CCL4;CXCL9 CXCL10;CXCL6 CXCL10;CCR1 CCR5;TLR8 TIRAP;LY96 TIRAP;CCL27 CCL7;CCL27 ACKR1;VCAM1 CCL7;FN1 TGM2;TLR8 CCR5;TLR8 CD14;IQUB TLR4;ACKR1 TIRAP;CXCL6 TIRAP;CCL23 TLR10;CXCL9 TLR7;SIGLEC5 TGM2;CCL4 TIRAP;LY96 CD14".split(";");
const coexpEdges = "CCL4 TLR8;CCL4 LY96;CCL7 LY96;CCL5 PTPRC;TLR8 LY96;CD14 CCR5;VCAM1 SAA1;FN1 VCAN;CCR1 VCAN;TLR1 CCL4;PTPRC CCL7;LY96 TLR10;CCL23 CD14;CCL16 PTPRC;CD14 CCL7;SIGLEC5 CCR1;TLR7 VCAN;CCL27 TLR8;CXCL9 TLR8".split(";");
const pathwayEdges = "SAA1 FN1;SAA1 TLR2;SAA1 TLR1;SAA1 TLR6;VCAN FN1;VCAN TLR1;VCAN VCAM1;ACKR1 TLR10;IQUB TIRAP;CD14 TLR10;TIRAP CCR5;LY96 CCR5;LY96 CCL4;TLR8 CCL7;TLR10 CCR5;CCL7 CCR5".split(";");

// ---------- J: survival ----------
const lowSurvival = [[0,1],[8,.99],[12,.975],[15,.96],[18,.945],[21,.93],[24,.91],[32,.905],[34,.87],[36,.86],[42,.855],[44,.83],[47,.81],[50,.78],[53,.76],[56,.74],[64,.715],[76,.7],[78,.66],[81,.628],[95,.58],[97,.54],[98,.505],[120,.45],[137,.4],[138,.385],[148,.305],[149,.23],[157,.155],[173,0]];
const highSurvival = [[0,1],[6,.98],[8,.95],[10,.92],[13,.89],[17,.87],[19,.84],[21,.82],[25,.8],[27,.76],[29,.74],[33,.72],[37,.7],[39,.66],[42,.63],[46,.6],[51,.57],[53,.54],[60,.52],[63,.49],[68,.455],[79,.43],[83,.42],[88,.395],[98,.37],[107,.34],[116,.305],[133,.25],[136,.2],[141,.155],[217,.155]];
const lowUpper = [[0,1],[18.7,.979],[33,.946],[41,.917],[53,.866],[63.5,.829],[75.7,.826],[80,.775],[95,.772],[98,.698],[119.4,.698],[120.5,.669],[137.7,.667],[137.7,.633],[148,.631],[149,.555],[157,.55],[157.5,.504]];
const lowLower = [[0,.995],[10.6,.959],[18.7,.907],[24.8,.86],[35,.803],[41,.793],[47,.721],[57,.648],[69.6,.617],[75.7,.612],[80,.514],[94,.509],[97,.39],[100,.364],[119.4,.364],[120.5,.328],[136.7,.297],[137.7,.235],[148,.235],[149,.095],[157,.09],[157.5,.043]];
const highUpper = [[0,1],[14.6,.959],[24.8,.866],[28.9,.824],[41,.721],[49,.69],[63.5,.607],[75.7,.571],[83.8,.54],[98,.524],[106,.483],[118.4,.457],[133.7,.452],[136.7,.41],[140.8,.377],[214,.374]];
const highLower = [[0,.99],[7.5,.933],[14.6,.866],[22.8,.772],[29,.69],[37,.628],[41,.576],[53.3,.457],[62.5,.426],[69.6,.364],[81.8,.328],[89,.297],[100,.292],[107,.24],[116.4,.235],[116.4,.204],[132.7,.199],[135.7,.105],[141.8,.064],[213,.061]];
const lowCensor = [8,10,14,22,25,27,28,29,30,31,32,34,35,36,37,38,39,40,41,42,44,46,47,48,50,51,52,53,55,57,62,68,71,74,75,87,89,90,92,94,98,126,138,158];
const highCensor = [3,6,10,15,25,28,30,32,35,36,38,43,45,47,49,50,53,58,60,64,66,73,87,90,93,98,101,108,112,120,126,176,186,216];
const survivalNotes = ["Logrank p=0.00034","HR(high)=2","p(HR)=0.00043","n(high)=257","n(low)=257"];

// ---------- helpers ----------
const svg = d3.select("body").append("svg").attr("width", 1299).attr("height", 2006);
const defs = svg.append("defs");

function label(g, s, x, y, o = {}) {
  const t = g.append("text").attr("x", x).attr("y", y).text(s)
    .attr("font-size", o.size || 10).attr("fill", o.fill || "#000")
    .attr("text-anchor", o.anchor || "middle").attr("dominant-baseline", o.base || "middle");
  if (o.weight) t.attr("font-weight", o.weight);
  if (o.family) t.style("font-family", o.family);
  if (o.rotate !== undefined) t.attr("transform", `rotate(${o.rotate} ${x} ${y})`);
  return t;
}
function styleAxis(a, size, color, tickColor) {
  a.selectAll("text").attr("font-size", size).attr("fill", color);
  a.selectAll("line").attr("stroke", tickColor || color);
  a.select(".domain").remove();
}
function gradient(id, stops, vertical) {
  const lg = defs.append("linearGradient").attr("id", id).attr("x1", 0).attr("y1", vertical ? 1 : 0).attr("x2", vertical ? 0 : 1).attr("y2", 0);
  stops.forEach((c, i) => lg.append("stop").attr("offset", i / (stops.length - 1)).attr("stop-color", c));
  return `url(#${id})`;
}
const minus = s => String(s).replace("-", "−");

[["A",14,16],["B",435,16],["C",846,16],["D",14,420],["E",508,420],["F",937,419],["G",939,747],["H",14,1040],["I",7,1558],["J",799,1558]]
  .forEach(p => label(svg, p[0], p[1], p[2], {size: 24, weight: "bold"}));

// ---------- panel A ----------
(function () {
  const g = svg.append("g");
  const x = d3.scaleLinear().domain([-6.6, 6.6]).range([77, 393]);
  const y = d3.scaleLinear().domain([-2.4, 52.4]).range([336, 19]);
  [-6,-4.5,-3,-1.5,0,1.5,3,4.5,6].forEach((v, i) => g.append("line").attr("x1", x(v)).attr("x2", x(v)).attr("y1", 19).attr("y2", 336).attr("stroke", "#ededed").attr("stroke-width", i % 2 ? .5 : 1));
  [0,5,10,15,20,25,30,35,40,45,50].forEach((v, i) => g.append("line").attr("y1", y(v)).attr("y2", y(v)).attr("x1", 77).attr("x2", 393).attr("stroke", "#ededed").attr("stroke-width", i % 2 ? .5 : 1));
  const line = d3.line().x(d => x(d[0])).y(d => y(d[1])).curve(d3.curveLinearClosed);
  const blob = (pts, c) => g.append("path").attr("d", line(pts)).attr("fill", c).attr("stroke", c).attr("stroke-width", 6).attr("stroke-linejoin", "round");
  blob(volcanoRedRight, "#d60000"); blob(volcanoRedLeft, "#d60000");
  g.selectAll(null).data(volcanoRedPoints).join("circle").attr("cx", d => x(d[0])).attr("cy", d => y(d[1])).attr("r", 3.3).attr("fill", "#d60000");
  blob(volcanoGrayRight, "#989898"); blob(volcanoGrayLeft, "#989898"); blob(volcanoBand, "#989898");
  g.selectAll(null).data(volcanoGrayPoints).join("circle").attr("cx", d => x(d[0])).attr("cy", d => y(d[1])).attr("r", 3.3).attr("fill", "#989898");
  g.append("line").attr("x1", 77).attr("x2", 393).attr("y1", y(1.3)).attr("y2", y(1.3)).attr("stroke", "#111").attr("stroke-width", 1.4).attr("stroke-dasharray", "1.4 3.4");
  [-1, 1].forEach(v => g.append("line").attr("x1", x(v)).attr("x2", x(v)).attr("y1", 19).attr("y2", 336).attr("stroke", "#111").attr("stroke-width", 1.4).attr("stroke-dasharray", "1.4 3.4"));
  g.append("rect").attr("x", 77).attr("y", 19).attr("width", 316).attr("height", 317).attr("fill", "none").attr("stroke", "#555").attr("stroke-width", 1);
  const ax = g.append("g").attr("transform", "translate(0,336)").call(d3.axisBottom(x).tickValues([-6,-3,0,3,6]).tickFormat(minus).tickSize(3));
  styleAxis(ax, 12, "#5a5a5a");
  const ay = g.append("g").attr("transform", "translate(77,0)").call(d3.axisLeft(y).tickValues([0,10,20,30,40,50]).tickSize(3));
  styleAxis(ay, 12, "#5a5a5a");
  label(g, "Log2(FC)", 235, 362, {size: 13.5, fill: "#222"});
  label(g, "FDR(BH adjust, −log10)", 47, 177, {size: 13.5, rotate: -90, fill: "#222"});
  label(g, "High_down: 468", 89, 91, {size: 13.5, anchor: "start", fill: "#222"});
  label(g, "High_up: 1631", 285, 91, {size: 13.5, anchor: "start", fill: "#222"});
})();

// ---------- panel B ----------
(function () {
  const g = svg.append("g");
  const palette = ["#8cc0f7","#b5d7f7","#d6e8f8","#f4f1f0","#efb4a2","#dc3d25","#d40000"];
  const y = d3.scaleBand().domain(d3.range(heatRows.length)).range([36, 352]);
  const xHigh = d3.scaleBand().domain(d3.range(36)).range([489, 632]);
  const xLow = d3.scaleBand().domain(d3.range(36, 72)).range([634, 777]);
  defs.append("filter").attr("id", "soft").append("feGaussianBlur").attr("stdDeviation", .55);
  const cells = g.append("g").attr("filter", "url(#soft)");
  heatRows.forEach((row, r) => {
    cells.selectAll(null).data(row.split("")).join("rect")
      .attr("x", (d, i) => i < 36 ? xHigh(i) : xLow(i)).attr("y", y(r))
      .attr("width", 4.05).attr("height", y.bandwidth() + .1).attr("fill", d => palette[+d]);
  });
  g.append("rect").attr("x", 489).attr("y", 26).attr("width", 143).attr("height", 9).attr("fill", "#3d6cb0");
  g.append("rect").attr("x", 633).attr("y", 26).attr("width", 144).attr("height", 9).attr("fill", "#a33a2c");
  label(g, "Cluster", 487, 31, {size: 7, anchor: "end", fill: "#444"});
  label(g, "High", 560, 19, {size: 8, fill: "#333"});
  label(g, "Low", 705, 19, {size: 8, fill: "#333"});
  label(g, "Z−score", 781, 162, {size: 5.5, anchor: "start", weight: "bold", fill: "#333"});
  g.append("rect").attr("x", 781).attr("y", 167).attr("width", 7).attr("height", 35).attr("fill", gradient("zbar", ["#6aaefb","#ffffff","#d40000"], true));
  [2,1,0,-1,-2].forEach((v, i) => label(g, minus(v), 790, 170 + i * 8, {size: 5.5, anchor: "start", fill: "#444"}));
})();

// ---------- panel C ----------
(function () {
  const frames = [
    {x0:894,x1:1063,top:20,base:92,unit:162.5,bar0:97,strip0:115,strip1:123,m0:153,mUnit:2.2,bottom:161,xl:171,yl:881,tx:1020,ty:27,lx:993,ly:36,s:1},
    {x0:1126,x1:1295,top:15,base:87,unit:116.7,bar0:91,strip0:109,strip1:117,m0:147,mUnit:2.1,bottom:156,xl:166,yl:1113,tx:1250,ty:23,lx:1225,ly:32,s:1},
    {x0:897,x1:1066,top:197,base:267,unit:180,bar0:272,strip0:290,strip1:298,m0:328,mUnit:2.2,bottom:335,xl:346,yl:883,tx:1025,ty:203,lx:1000,ly:212,s:1},
    {x0:1123,x1:1295,top:190,base:257,unit:193,bar0:265,strip0:283,strip1:291,m0:323,mUnit:2.3,bottom:333,xl:340,yl:1113,tx:1256,ty:194,lx:1222,ly:202,s:.85}
  ];
  frames.forEach((f, k) => {
    const g = svg.append("g");
    const x = d3.scaleLinear().domain([0, 549]).range([f.x0, f.x1]);
    const y = d3.scaleLinear().domain([0, 1]).range([f.base, f.base - f.unit]);
    const m = d3.scaleLinear().domain([0, 1]).range([f.m0, f.m0 - f.mUnit]);
    gseaRankTicks.forEach(v => {
      g.append("line").attr("x1", x(v)).attr("x2", x(v)).attr("y1", f.top).attr("y2", f.base + 3).attr("stroke", "#eee");
      g.append("line").attr("x1", x(v)).attr("x2", x(v)).attr("y1", f.strip1).attr("y2", f.bottom).attr("stroke", "#eee");
      g.append("line").attr("x1", x(v) - 15).attr("x2", x(v) - 15).attr("y1", f.top).attr("y2", f.base + 3).attr("stroke", "#f5f5f5");
    });
    g.append("path").attr("d", d3.area().x(d => x(d[0])).y0(m(0)).y1(d => m(d[1]))(rankedMetric)).attr("fill", "#bdbdbd");
    g.append("path").attr("d", d3.line().x(d => x(d[0])).y(d => y(d[1]))(gseaScores[k])).attr("fill", "none").attr("stroke", "#cf2a28").attr("stroke-width", 1.3);
    g.selectAll(null).data(gseaHits[k]).join("line").attr("x1", d => x(d)).attr("x2", d => x(d)).attr("y1", f.bar0).attr("y2", f.strip0).attr("stroke", "#333").attr("stroke-width", .8);
    let start = 0;
    gseaStrips[k].forEach(s => {
      g.append("rect").attr("x", x(start)).attr("y", f.strip0).attr("width", x(s[0]) - x(start)).attr("height", f.strip1 - f.strip0).attr("fill", s[1]);
      start = s[0];
    });
    g.append("path").attr("d", `M${f.x0},${f.top}V${f.base + 3}M${f.x0},${f.strip1}V${f.bottom}H${f.x1}`).attr("fill", "none").attr("stroke", "#777").attr("stroke-width", .8);
    const tick = 4.4 * f.s + .4, fs = 5.7 * f.s;
    gseaRankTicks.forEach(v => label(g, v, x(v), f.bottom + 5, {size: tick, fill: "#888"}));
    gseaScoreTicks[k].forEach(v => label(g, v.toFixed(1), f.x0 - 2, y(v), {size: tick, anchor: "end", fill: "#888"}));
    [0,5,10].forEach(v => label(g, v, f.x0 - 2, m(v), {size: tick, anchor: "end", fill: "#888"}));
    label(g, "Rank in Ordered Dataset", (f.x0 + f.x1) / 2 - 1, f.xl, {size: fs, fill: "#555"});
    label(g, "Running Enrichment Score", f.yl, (f.top + f.base) / 2, {size: fs, rotate: -90, fill: "#555"});
    label(g, "Ranked list metric", f.yl, f.m0 - 10, {size: fs, rotate: -90, fill: "#555"});
    g.append("rect").attr("x", f.tx - 1).attr("y", f.ty - 4).attr("width", 46 * f.s).attr("height", 8).attr("fill", "#ccc");
    g.append("rect").attr("x", f.tx - 1).attr("y", f.ty + 4).attr("width", 46 * f.s).attr("height", 9).attr("fill", "#e6e6e6");
    const c1 = f.tx + 10 * f.s, c2 = f.tx + 33 * f.s;
    label(g, "pvalue", c1, f.ty, {size: 5.3 * f.s, weight: "bold", fill: "#222"});
    label(g, "p.adjust", c2, f.ty, {size: 5.3 * f.s, weight: "bold", fill: "#222"});
    label(g, gseaPvalues[k], c1, f.ty + 8.5, {size: 5.3 * f.s, fill: "#333"});
    label(g, gseaPadjust[k], c2, f.ty + 8.5, {size: 5.3 * f.s, fill: "#333"});
    label(g, gseaTerms[k], f.lx, f.ly, {size: 5.2 * f.s, fill: "#c43a38"});
  });
})();

// ---------- panel D ----------
(function () {
  const g = svg.append("g");
  const x = d3.scaleLinear().domain([10, 30]).range([298, 409]);
  const y = d3.scalePoint().domain(keggTerms).range([472, 934]);
  const r = d3.scaleLinear().domain([7, 10, 20, 31]).range([2, 3.2, 5.3, 7]);
  const color = d3.scaleLinear().domain([0, .055]).range(["#e60012", "#1800ff"]);
  g.append("rect").attr("x", 274).attr("y", 460).attr("width", 148).attr("height", 485).attr("fill", "#ebebeb");
  [12.5,17.5,22.5,27.5].forEach(v => g.append("line").attr("x1", x(v)).attr("x2", x(v)).attr("y1", 460).attr("y2", 945).attr("stroke", "#f5f5f5").attr("stroke-width", .5));
  [10,15,20,25,30].forEach(v => g.append("line").attr("x1", x(v)).attr("x2", x(v)).attr("y1", 460).attr("y2", 945).attr("stroke", "#fff"));
  keggTerms.forEach(t => g.append("line").attr("x1", 274).attr("x2", 422).attr("y1", y(t)).attr("y2", y(t)).attr("stroke", "#fff"));
  g.selectAll(null).data(keggTerms).join("circle").attr("cx", (d, i) => x(keggCounts[i])).attr("cy", d => y(d)).attr("r", (d, i) => r(keggCounts[i])).attr("fill", (d, i) => color(keggPadjust[i]));
  const ay = g.append("g").attr("transform", "translate(274,0)").call(d3.axisLeft(y).tickSize(2.5));
  styleAxis(ay, 12.5, "#222", "#333");
  const ax = g.append("g").attr("transform", "translate(0,945)").call(d3.axisBottom(x).tickValues(keggCountTicks).tickSize(2.5));
  styleAxis(ax, 9, "#555", "#333");
  label(g, "Count", 348, 966, {size: 12});
  label(g, "KEGG", 10, 703, {size: 14, rotate: -90});
  label(g, "Count", 437, 599, {size: 9, anchor: "start", fill: "#222"});
  g.append("rect").attr("x", 437).attr("y", 609).attr("width", 17).attr("height", 84).attr("fill", "#f2f2f2");
  keggCountTicks.forEach((c, i) => {
    g.append("circle").attr("cx", 445.5).attr("cy", 617 + i * 16.8).attr("r", r(c)).attr("fill", "#000");
    label(g, c, 459, 617 + i * 16.8, {size: 7.5, anchor: "start", fill: "#333"});
  });
  label(g, "p.adjust", 437, 720, {size: 9, anchor: "start", fill: "#222"});
  g.append("rect").attr("x", 437).attr("y", 729).attr("width", 17).attr("height", 84).attr("fill", gradient("padj", ["#e60012", "#1800ff"], true));
  keggPTicks.forEach((p, i) => label(g, p.toFixed(2), 459, 739 + i * 14.8, {size: 7.5, anchor: "start", fill: "#333"}));
})();

// ---------- panel E ----------
(function () {
  const g = svg.append("g");
  const x = d3.scaleBand().domain(corGenes).range([583, 820]);
  const y = d3.scaleBand().domain(corCancers).range([485.5, 962.3]);
  const color = d3.scaleLinear().domain([-10, 0, 10]).range(["#2a1690", "#ffffff", "#b92a20"]);
  const s = 9;
  corCancers.forEach((c, r) => {
    corGenes.forEach((gene, k) => {
      const v = corValues[r][k], cx = x(gene) + x.bandwidth() / 2 + 1, cy = y(c) + y.bandwidth() / 2;
      if (corNonSig[r][k] === "x") {
        const stroke = color(v === 0 ? 1 : v * 1.3);
        g.append("path").attr("d", `M${cx - s / 2},${cy - s / 2}h${s}v${s}h${-s}zL${cx + s / 2},${cy + s / 2}M${cx + s / 2},${cy - s / 2}L${cx - s / 2},${cy + s / 2}`)
          .attr("fill", "none").attr("stroke", stroke).attr("stroke-width", .8);
      } else if (v !== 0) {
        g.append("rect").attr("x", cx - s / 2).attr("y", cy - s / 2).attr("width", s).attr("height", s + .5).attr("fill", color(v));
      }
    });
  });
  g.append("rect").attr("x", 583).attr("y", 484).attr("width", 240).attr("height", 479).attr("fill", "none").attr("stroke", "#bbb").attr("stroke-width", 1.2);
  corCancers.forEach(c => {
    label(g, c, 578, y(c) + y.bandwidth() / 2, {size: 6, anchor: "end", fill: "#333"});
    g.append("line").attr("x1", 581).attr("x2", 583).attr("y1", y(c) + y.bandwidth() / 2).attr("y2", y(c) + y.bandwidth() / 2).attr("stroke", "#555").attr("stroke-width", .5);
  });
  corGenes.forEach(c => {
    const cx = x(c) + x.bandwidth() / 2 + 1;
    label(g, c, cx, 480, {size: 6, anchor: "start", fill: "#333", rotate: -90});
    g.append("line").attr("x1", cx).attr("x2", cx).attr("y1", 482).attr("y2", 484).attr("stroke", "#555").attr("stroke-width", .5);
  });
  g.append("rect").attr("x", 841.5).attr("y", 688).attr("width", 9).attr("height", 9).attr("fill", "none").attr("stroke", "#000");
  g.append("path").attr("d", "M841.5,688L850.5,697M850.5,688L841.5,697").attr("stroke", "#000");
  g.append("rect").attr("x", 841.5).attr("y", 704).attr("width", 9).attr("height", 9).attr("fill", "#000");
  label(g, "p > 0.05", 859, 692.5, {size: 8.5, anchor: "start", fill: "#333"});
  label(g, "p ... 0.05", 859, 708.6, {size: 8.5, anchor: "start", fill: "#333"});
  label(g, "Spearman_Cor", 838, 742, {size: 10, anchor: "start", fill: "#222"});
  g.append("rect").attr("x", 838).attr("y", 751).attr("width", 7).attr("height", 27).attr("fill", gradient("spear", ["#2a1690", "#ffffff", "#b92a20"], true));
  label(g, "1", 850, 752.5, {size: 8, anchor: "start", fill: "#333"});
  label(g, "0", 850, 764, {size: 8, anchor: "start", fill: "#333"});
  label(g, "−1", 850, 777.5, {size: 8, anchor: "start", fill: "#333"});
})();

// ---------- panel F ----------
(function () {
  const g = svg.append("g");
  const x = d3.scaleLinear().domain([258, 1118]).range([1006, 1293]);
  const y = d3.scaleLinear().domain([.3, 1]).range([620, 430]);
  const line = d3.line().x(d => x(d[0])).y(d => y(d[1]));
  g.selectAll(null).data(dendroGuides).join("line").attr("x1", d => x(d[0])).attr("x2", d => x(d[0])).attr("y1", d => y(d[1])).attr("y2", 640)
    .attr("stroke", "#aaa").attr("stroke-width", .7).attr("stroke-dasharray", "1 1.4");
  g.selectAll(null).data(dendroThin).join("path").attr("d", line).attr("fill", "none").attr("stroke", "#111").attr("stroke-width", .8);
  g.selectAll(null).data(dendroTwigs).join("path").attr("d", line).attr("fill", "none").attr("stroke", "#222").attr("stroke-width", 1.5);
  g.selectAll(null).data(dendroBranches).join("path").attr("d", line).attr("fill", "none").attr("stroke", "#111").attr("stroke-width", 2.6).attr("stroke-linejoin", "round");
  moduleStrip.forEach(s => g.append("rect").attr("x", x(s[0])).attr("y", 642).attr("width", x(s[1]) - x(s[0]) + .3).attr("height", 48).attr("fill", s[2]));
  g.append("path").attr("d", "M1006,642.5H1293M1006,690H1293").attr("stroke", "#222").attr("stroke-width", .7);
  g.append("path").attr("d", `M992,${y(.3)}H996V${y(1)}H992`).attr("fill", "none").attr("stroke", "#333").attr("stroke-width", .8);
  dendroTicks.forEach(v => {
    g.append("line").attr("x1", 992).attr("x2", 996).attr("y1", y(v)).attr("y2", y(v)).attr("stroke", "#333").attr("stroke-width", .8);
    label(g, v.toFixed(1), 977, y(v), {size: 10, rotate: -90, fill: "#222"});
  });
  label(g, "Cluster Dendrogram", 1149, 403, {size: 11.7, weight: "bold", fill: "#222"});
  label(g, "Height", 950, 531, {size: 9.5, rotate: -90, fill: "#222"});
  label(g, "Module colors", 1001, 666, {size: 8.5, anchor: "end", fill: "#222"});
})();

// ---------- panel G ----------
(function () {
  const g = svg.append("g");
  const x = d3.scaleBand().domain(moduleNames).range([985, 1288]);
  const y = d3.scaleBand().domain(traitNames).range([771, 968]);
  const color = d3.scaleLinear().domain([-1, -.5, 0, .5, 1]).range(["#3f7fe6", "#97bffa", "#ffffff", "#e59a80", "#d83a1c"]);
  moduleNames.forEach((m, i) => {
    g.append("rect").attr("x", x(m)).attr("y", 756).attr("width", x.bandwidth()).attr("height", 13).attr("fill", moduleColors[i]);
    label(g, m, x(m) + x.bandwidth() / 2 + 2, 753, {size: 7, anchor: "end", rotate: 90, fill: "#333"});
    traitNames.forEach((t, j) => {
      g.append("rect").attr("x", x(m)).attr("y", y(t)).attr("width", x.bandwidth() + .3).attr("height", y.bandwidth() + .3).attr("fill", color(traitCors[j][i]));
      const cx = x(m) + x.bandwidth() / 2 + 3, cy = y(t) + y.bandwidth() / 2 + 1;
      label(g, minus(traitCors[j][i]), cx, cy, {size: 4.6, rotate: 90, fill: "#333"});
      label(g, `(${traitPvals[j][i]})`, cx - 5, cy, {size: 4.6, rotate: 90, fill: "#333"});
    });
  });
  g.append("rect").attr("x", 985).attr("y", 771).attr("width", 303).attr("height", 197).attr("fill", "none").attr("stroke", "#999").attr("stroke-width", .8);
  traitNames.forEach(t => label(g, t, 973, y(t) + y.bandwidth() / 2 - 2, {size: 7, rotate: 45, fill: "#333"}));
  label(g, "Module−Type Relationships", 1293, 880, {size: 8, rotate: 90, weight: "bold", fill: "#222"});
  const bx = d3.scaleLinear().domain([-1, 1]).range([1003, 1270]);
  g.append("rect").attr("x", 1003).attr("y", 973).attr("width", 267).attr("height", 7).attr("fill", gradient("modbar", ["#3f7fe6", "#ffffff", "#d83a1c"], false));
  traitTicks.forEach(v => {
    g.append("line").attr("x1", bx(v)).attr("x2", bx(v)).attr("y1", 980).attr("y2", 983).attr("stroke", "#444").attr("stroke-width", .6);
    label(g, minus(v), bx(v), 985, {size: 7.5, anchor: "start", rotate: 90, fill: "#333"});
  });
})();

// ---------- panel H ----------
(function () {
  const frames = [
    {l:98,r:290,t:1047,b:1222,x0:101.7,x3:264,v0:0,v1:4,p0:1216.7,p1:1098,rx:108.5,ry:1068,tx:193.5,yx:68},
    {l:344,r:530,t:1047,b:1222,x0:348,x3:510,v0:0,v1:4,p0:1214,p1:1062,rx:354.7,ry:1061,tx:440,yx:315},
    {l:591,r:782,t:1047,b:1220,x0:594,x3:755,v0:0,v1:3,p0:1220,p1:1078,rx:601,ry:1053,tx:686,yx:560},
    {l:846,r:1028,t:1047,b:1220,x0:852,x3:1003.5,v0:0,v1:2.5,p0:1217,p1:1055,rx:858,ry:1053,tx:938,yx:807},
    {l:1081,r:1273,t:1047,b:1220,x0:1086,x3:1248,v0:1,v1:5,p0:1187,p1:1049,rx:1093,ry:1065,tx:1178,yx:1053},
    {l:98,r:290,t:1282,b:1457,x0:101.7,x3:264,v0:1,v1:5,p0:1427,p1:1307,rx:108.5,ry:1306,tx:193.5,yx:68},
    {l:344,r:530,t:1282,b:1457,x0:348,x3:510,v0:0,v1:5,p0:1449,p1:1296,rx:354.7,ry:1294,tx:440,yx:315},
    {l:596,r:782,t:1282,b:1457,x0:602,x3:757,v0:2,v1:10,p0:1451,p1:1284,rx:608,ry:1303,tx:690,yx:560},
    {l:834,r:1028,t:1282,b:1457,x0:840,x3:1001,v0:0,v1:6,p0:1451,p1:1305,rx:846,ry:1292,tx:932,yx:808},
    {l:1081,r:1273,t:1282,b:1457,x0:1086,x3:1248,v0:0,v1:6,p0:1438,p1:1302,rx:1093,ry:1289,tx:1178,yx:1053}
  ];
  frames.forEach((f, k) => {
    const g = svg.append("g");
    const x = d3.scaleLinear().domain([0, 3]).range([f.x0, f.x3]);
    const y = d3.scaleLinear().domain([f.v0, f.v1]).range([f.p0, f.p1]);
    g.append("rect").attr("x", f.l).attr("y", f.t).attr("width", f.r - f.l).attr("height", f.b - f.t).attr("fill", "#ebebeb");
    [0,1,2,3].forEach(v => g.append("line").attr("x1", x(v)).attr("x2", x(v)).attr("y1", f.t).attr("y2", f.b).attr("stroke", "#fff"));
    [.5,1.5,2.5].forEach(v => g.append("line").attr("x1", x(v)).attr("x2", x(v)).attr("y1", f.t).attr("y2", f.b).attr("stroke", "#fff").attr("stroke-width", .5));
    scatterTicks[k].forEach(v => g.append("line").attr("x1", f.l).attr("x2", f.r).attr("y1", y(v)).attr("y2", y(v)).attr("stroke", "#fff"));
    const hull = scatterCore[k].map(d => [x(d[0]), y(d[1])]);
    const mid = d3.polygonCentroid(hull);
    g.append("path").attr("d", d3.line().curve(d3.curveLinearClosed)(hull.map(p => [mid[0] + (p[0] - mid[0]) * .92, mid[1] + (p[1] - mid[1]) * .92]))).attr("fill", "#0606e0");
    g.selectAll(null).data(fndc3b).join("circle").attr("cx", d => x(d)).attr("cy", (d, i) => y(scatterY[k][i])).attr("r", 4.2).attr("fill", "#0606e0");
    const fit = v => scatterFitStart[k] + (scatterFitEnd[k] - scatterFitStart[k]) * (v - .5) / 2.8;
    const band = fitCiX.map((v, i) => [x(v), y(fit(v)) - fitCiHalf[i] * 30]).concat(fitCiX.map((v, i) => [x(v), y(fit(v)) + fitCiHalf[i] * 30]).reverse());
    g.append("path").attr("d", d3.line().curve(d3.curveLinearClosed)(band)).attr("fill", "#999").attr("opacity", .3);
    g.append("line").attr("x1", x(.5)).attr("x2", x(3.3)).attr("y1", y(scatterFitStart[k])).attr("y2", y(scatterFitEnd[k])).attr("stroke", "#000").attr("stroke-width", 3);
    const ax = g.append("g").attr("transform", `translate(0,${f.b})`).call(d3.axisBottom(x).tickValues([0,1,2,3]).tickFormat(d3.format("d")).tickSize(3));
    styleAxis(ax, 14.5, "#666", "#333");
    const ay = g.append("g").attr("transform", `translate(${f.l},0)`).call(d3.axisLeft(y).tickValues(scatterTicks[k]).tickFormat(scatterTicks[k].includes(.5) ? d3.format(".1f") : d3.format("d")).tickSize(3));
    styleAxis(ay, 14.5, "#666", "#333");
    label(g, "log2(FNDC3B + 1)", f.tx, f.b + 33, {size: 17.7, fill: "#222"});
    label(g, `log2(${scatterGenes[k]} + 1)`, f.yx, (f.t + f.b) / 2 - 1, {size: 17.7, rotate: -90, fill: "#222"});
    const rt = g.append("text").attr("x", f.rx).attr("y", f.ry).attr("dominant-baseline", "middle").attr("font-size", 18.3).attr("fill", "#222");
    rt.append("tspan").attr("font-style", "italic").text("R");
    rt.append("tspan").text(` = ${scatterR[k]}, `);
    rt.append("tspan").attr("font-style", "italic").text("p");
    rt.append("tspan").text(" < 2.2e−16");
  });
})();

// ---------- panel I ----------
(function () {
  const g = svg.append("g");
  // ring positions of the gene nodes, read in px from the figure
  const layoutX = [300,238,361.5,416.5,182.5,461.5,137.5,300,240.5,359,109.5,490,203.5,395.5,100,499.5,203.5,395.5,109.5,490,240.5,359,300,138,461.5,182.5,416.5,238,300,361.5];
  const layoutY = [1584,1593,1593,1622,1622,1666,1666,1682,1701,1701,1721,1721,1751,1751,1782,1782,1814,1814,1843,1844,1864,1864,1883,1898,1899,1943,1943,1972,1982,1972];
  const nodes = new Map(geneNames.map((n, i) => [n, {x: layoutX[i], y: layoutY[i], r: geneScores[i], f: geneFunctions[i]}]));
  const drawEdges = (list, color, w) => list.forEach((e, i) => {
    const [a, b] = e.split(" ").map(n => nodes.get(n));
    g.append("line").attr("x1", a.x).attr("y1", a.y).attr("x2", b.x).attr("y2", b.y).attr("stroke", color).attr("stroke-width", w + (i % 3) * .5).attr("opacity", .42);
  });
  drawEdges(pathwayEdges, networkTypeColors[2], 1.2);
  drawEdges(coexpEdges, networkTypeColors[1], 1.1);
  drawEdges(sharedEdges, networkTypeColors[3], 1.3);
  drawEdges(physicalEdges, networkTypeColors[0], 1.2);
  const pat = defs.append("pattern").attr("id", "hatch").attr("width", 4).attr("height", 4).attr("patternUnits", "userSpaceOnUse").attr("patternTransform", "rotate(-45)");
  pat.append("rect").attr("width", 4).attr("height", 4).attr("fill", "#484848");
  pat.append("rect").attr("width", 4).attr("height", 1.4).attr("fill", "#5a5a5a");
  geneNames.forEach(n => {
    const d = nodes.get(n);
    const hatched = d.f.includes("1");
    g.append("circle").attr("cx", d.x).attr("cy", d.y).attr("r", d.r).attr("fill", hatched ? "url(#hatch)" : "#4c4c4c");
    const sector = 2 * Math.PI / 7;
    d.f.split("").forEach((flag, i) => {
      if (flag !== "1") return;
      g.append("path").attr("transform", `translate(${d.x},${d.y})`).attr("d", d3.arc().innerRadius(0).outerRadius(d.r).startAngle(i * sector).endAngle((i + 1) * sector)()).attr("fill", functionColors[i]);
    });
    label(g, n, d.x, d.y + .5, {size: n.length > 5 ? 10 : 10.5, fill: "#fff"}).attr("stroke", "#3a3a3a").attr("stroke-width", 2).attr("paint-order", "stroke");
  });
  const serif = '"Liberation Serif", serif';
  label(g, "Networks", 580, 1633, {size: 13.5, anchor: "start", weight: "bold", family: serif, fill: "#222"});
  label(g, "Functions", 579, 1779, {size: 13.5, anchor: "start", weight: "bold", family: serif, fill: "#222"});
  networkTypes.forEach((t, i) => {
    g.append("rect").attr("x", 580).attr("y", 1653 + i * 20.4 - 3.5).attr("width", 7).attr("height", 7).attr("fill", networkTypeColors[i]);
    label(g, t, 596, 1653 + i * 20.4, {size: 10, anchor: "start", family: serif, fill: "#444"});
  });
  networkFunctions.forEach((t, i) => {
    g.append("rect").attr("x", 579).attr("y", 1799 + i * 20.4 - 3.5).attr("width", 7).attr("height", 7).attr("fill", functionColors[i]);
    label(g, t, 595, 1799 + i * 20.4, {size: 10, anchor: "start", family: serif, fill: "#444"});
  });
})();

// ---------- panel J ----------
(function () {
  const g = svg.append("g");
  const x = d3.scaleLinear().domain([0, 200]).range([883, 1210]);
  const y = d3.scaleLinear().domain([0, 1]).range([1922, 1600]);
  const stepped = d3.line().x(d => x(d[0])).y(d => y(d[1])).curve(d3.curveStepAfter);
  const plain = d3.line().x(d => x(d[0])).y(d => y(d[1]));
  const blue = "#0f1fd8", red = "#d01c1f";
  [[lowUpper, blue], [lowLower, blue], [highUpper, red], [highLower, red]].forEach(c =>
    g.append("path").attr("d", plain(c[0])).attr("fill", "none").attr("stroke", c[1]).attr("stroke-width", 1.1).attr("stroke-dasharray", "1.2 3.2"));
  const at = (curve, t) => curve[Math.max(0, d3.bisector(d => d[0]).right(curve, t) - 1)][1];
  [[lowSurvival, lowCensor, blue], [highSurvival, highCensor, red]].forEach(c => {
    g.append("path").attr("d", stepped(c[0])).attr("fill", "none").attr("stroke", c[2]).attr("stroke-width", 2);
    g.selectAll(null).data(c[1]).join("line").attr("x1", d => x(d)).attr("x2", d => x(d)).attr("y1", d => y(at(c[0], d)) - 4.5).attr("y2", d => y(at(c[0], d)) + 4.5).attr("stroke", c[2]).attr("stroke-width", 1);
  });
  g.append("rect").attr("x", 883).attr("y", 1587).attr("width", 366).attr("height", 348).attr("fill", "none").attr("stroke", "#333").attr("stroke-width", 1.1);
  const ax = g.append("g").attr("transform", "translate(0,1935)").call(d3.axisBottom(x).tickValues([0,50,100,150,200]).tickSize(7).tickPadding(8));
  styleAxis(ax, 14.5, "#222", "#333");
  const ay = g.append("g").attr("transform", "translate(883,0)").call(d3.axisLeft(y).tickValues([0,.2,.4,.6,.8,1]).tickSize(7).tickFormat(d3.format(".1f")));
  ay.select(".domain").remove();
  ay.selectAll("line").attr("stroke", "#333");
  ay.selectAll("text").remove();
  [0,.2,.4,.6,.8,1].forEach(v => label(g, v.toFixed(1), 856, y(v), {size: 14.5, rotate: -90, fill: "#222"}));
  label(g, "Overall Survival", 1066, 1572, {size: 21, fill: "#111"});
  label(g, "Months", 1066, 1988, {size: 18.5, fill: "#111"});
  label(g, "Percent survival", 826, 1762, {size: 18, rotate: -90, fill: "#111"});
  g.append("line").attr("x1", 1031).attr("x2", 1059).attr("y1", 1604).attr("y2", 1604).attr("stroke", blue).attr("stroke-width", 2);
  g.append("line").attr("x1", 1031).attr("x2", 1059).attr("y1", 1618).attr("y2", 1618).attr("stroke", red).attr("stroke-width", 2);
  label(g, "Low 10 Signatures Group", 1066, 1604, {size: 14.5, anchor: "start", fill: "#222"});
  label(g, "High 10 Signatures Group", 1066, 1618, {size: 14.5, anchor: "start", fill: "#222"});
  survivalNotes.forEach((t, i) => label(g, t, 1239, 1637 + i * 18.2, {size: 14.5, anchor: "end", fill: "#222"}));
})();
</script>
</body>
</html>
